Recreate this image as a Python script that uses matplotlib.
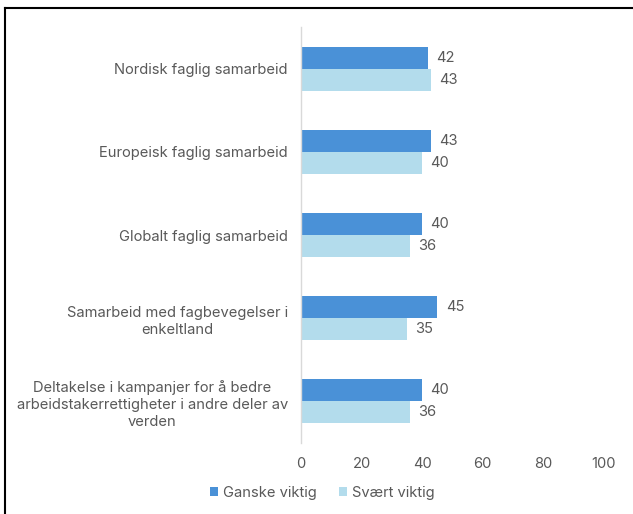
import matplotlib.pyplot as plt
from matplotlib.lines import Line2D
import numpy as np

plt.rcParams['font.family'] = ['Inter', 'DejaVu Sans']

categories = [
    'Nordisk faglig samarbeid',
    'Europeisk faglig samarbeid',
    'Globalt faglig samarbeid',
    'Samarbeid med fagbevegelser i\nenkeltland',
    'Deltakelse i kampanjer for å bedre\narbeidstakerrettigheter i andre deler av\nverden',
]
ganske = [42, 43, 40, 45, 40]
svaert = [43, 40, 36, 35, 36]
series_names = ['Ganske viktig', 'Svært viktig']
colors = ['#4A91D7', '#B3DCEC']
text_color = '#595959'
fs = 10.6

W, H = 633, 514
fig = plt.figure(figsize=(W / 100, H / 100), dpi=100)
ax = fig.add_axes([301 / W, 1 - 443 / H, (604 - 301) / W, (443 - 27) / H])

y = np.arange(len(categories))
h = 0.265
b1 = ax.barh(y - h / 2, ganske, height=h, color=colors[0], label=series_names[0])
b2 = ax.barh(y + h / 2, svaert, height=h, color=colors[1], label=series_names[1])

for bars in (b1, b2):
    for rect in bars:
        w = rect.get_width()
        ax.annotate(f'{w:g}', (w, rect.get_y() + rect.get_height() / 2),
                    xytext=(6, 0), textcoords='offset points',
                    va='center', ha='left', fontsize=fs, color=text_color)

ax.set_ylim(len(categories) - 0.5, -0.5)
ax.set_xlim(0, 100)
ax.set_xticks(range(0, 101, 20))
ax.set_yticks(y)
ax.set_yticklabels(categories, multialignment='center', linespacing=1.3)
ax.tick_params(axis='y', length=0, pad=9.5, labelsize=fs, labelcolor=text_color)
ax.tick_params(axis='x', length=0, pad=10, labelsize=fs, labelcolor=text_color)

for s in ('top', 'right', 'bottom'):
    ax.spines[s].set_visible(False)
ax.spines['left'].set_color('#D9D9D9')
ax.spines['left'].set_linewidth(1)

fig.legend(handles=[b1, b2], labels=series_names, loc='center',
           bbox_to_anchor=(322 / W, 1 - 493 / H), ncol=2, frameon=False,
           fontsize=fs, labelcolor=text_color, handlelength=0.6,
           handleheight=0.6, handletextpad=0.3, columnspacing=1.5)

# outer frame (top and left edges visible in the crop)
fig.add_artist(Line2D([5 / W, 1], [1 - 8 / H, 1 - 8 / H], color='black', lw=1.5))
fig.add_artist(Line2D([5 / W, 5 / W], [0, 1 - 8 / H], color='black', lw=1.5))

fig.savefig('out.png', dpi=100)
